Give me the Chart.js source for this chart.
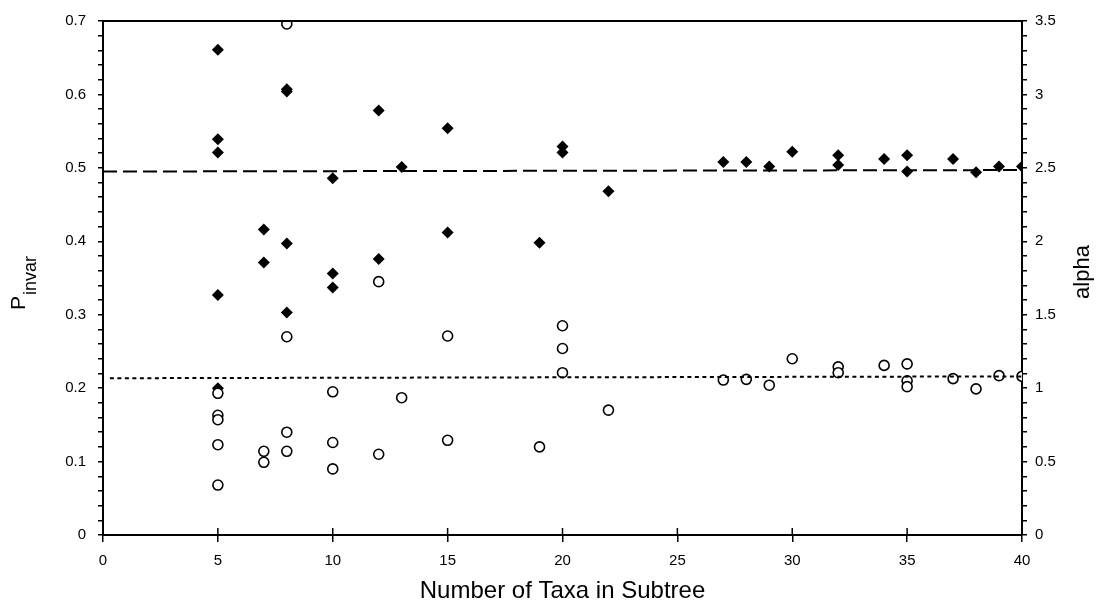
<!DOCTYPE html>
<html>
<head>
<meta charset="utf-8">
<script src="https://cdn.jsdelivr.net/npm/chart.js@4.4.1/dist/chart.umd.min.js"></script>
<style>
html, body { margin: 0; padding: 0; background: #fff; }
canvas { display: block; }
</style>
</head>
<body>
<canvas id="chart" width="1098" height="604"></canvas>
<script>
// filled diamonds (read on the left axis)
const diamondX = [5, 5, 5, 5, 5, 7, 7, 8, 8, 8, 8, 10, 10, 10, 12, 12, 13, 15, 15, 19, 20, 20, 22,
  27, 28, 29, 30, 32, 32, 34, 35, 35, 37, 38, 39, 40];
const diamondY = [0.661, 0.539, 0.521, 0.327, 0.200, 0.416, 0.371, 0.607, 0.604, 0.397, 0.303,
  0.486, 0.356, 0.337, 0.578, 0.376, 0.501, 0.554, 0.412, 0.398, 0.529, 0.521, 0.468,
  0.508, 0.508, 0.502, 0.522, 0.517, 0.504, 0.512, 0.517, 0.495, 0.512, 0.494, 0.502, 0.502];

// open circles
const circleX = [5, 5, 5, 5, 5, 7, 7, 8, 8, 8, 8, 10, 10, 10, 12, 12, 13, 15, 15, 19, 20, 20, 20, 22,
  27, 28, 29, 30, 32, 32, 34, 35, 35, 35, 37, 38, 39, 40];
const circleY = [0.193, 0.163, 0.157, 0.123, 0.068, 0.114, 0.099, 0.696, 0.270, 0.140, 0.114,
  0.195, 0.126, 0.090, 0.345, 0.110, 0.187, 0.271, 0.129, 0.120, 0.285, 0.254, 0.221, 0.170,
  0.211, 0.212, 0.204, 0.240, 0.229, 0.221, 0.231, 0.233, 0.210, 0.202, 0.213, 0.199, 0.217, 0.216];

// the two fitted lines
const dashX = [0, 40];
const dashY = [0.495, 0.497];
const dotX = [0.3, 40];
const dotY = [0.2135, 0.216];

const xMajor = [0, 5, 10, 15, 20, 25, 30, 35, 40];
const leftLabels = ['0', '0.1', '0.2', '0.3', '0.4', '0.5', '0.6', '0.7'];
const rightLabels = ['0', '0.5', '1', '1.5', '2', '2.5', '3', '3.5'];
const xTitle = 'Number of Taxa in Subtree';
const yTitleMain = 'P';
const yTitleSub = 'invar';
const y2Title = 'alpha';

const FONT = '"Liberation Sans", Arial, Helvetica, sans-serif';
const pts = (xs, ys) => xs.map((x, i) => ({ x: x, y: ys[i] }));

// minor ticks every 0.02 on the left, 0.1 on the right
const leftTicks = [];
for (let i = 0; i <= 35; i++) leftTicks.push(i / 50);
const rightTicks = [];
for (let i = 0; i <= 35; i++) rightTicks.push(i / 10);

const frame = {
  id: 'frame',
  afterDraw(chart) {
    const { ctx, chartArea: a, scales } = chart;
    ctx.save();
    ctx.strokeStyle = '#000';
    ctx.lineWidth = 2;
    ctx.beginPath();
    ctx.moveTo(a.left, a.top);
    ctx.lineTo(a.right, a.top);
    ctx.stroke();

    // x ticks also poke up into the plot
    ctx.lineWidth = 1.5;
    xMajor.forEach(v => {
      const px = scales.x.getPixelForValue(v);
      ctx.beginPath();
      ctx.moveTo(px, a.bottom);
      ctx.lineTo(px, a.bottom - 7);
      ctx.stroke();
    });

    ctx.fillStyle = '#000';
    ctx.textBaseline = 'alphabetic';
    ctx.font = '24px ' + FONT;
    ctx.textAlign = 'center';
    ctx.fillText(xTitle, (a.left + a.right) / 2, 598);

    // P with subscript "invar"
    ctx.save();
    ctx.translate(25, 310);
    ctx.rotate(-Math.PI / 2);
    ctx.textAlign = 'left';
    ctx.font = '21px ' + FONT;
    ctx.fillText(yTitleMain, 0, 0);
    const w = ctx.measureText(yTitleMain).width;
    ctx.font = '18px ' + FONT;
    ctx.fillText(yTitleSub, w + 1, 11);
    ctx.restore();

    ctx.save();
    ctx.translate(1089, 272);
    ctx.rotate(-Math.PI / 2);
    ctx.textAlign = 'center';
    ctx.font = '22px ' + FONT;
    ctx.fillText(y2Title, 0, 0);
    ctx.restore();
    ctx.restore();
  }
};

new Chart(document.getElementById('chart'), {
  type: 'scatter',
  data: {
    datasets: [
      { data: pts(dashX, dashY), showLine: true, pointRadius: 0, borderColor: '#000', borderWidth: 2, borderDash: [14, 6], order: -1 },
      { data: pts(dotX, dotY), showLine: true, pointRadius: 0, borderColor: '#000', borderWidth: 2, borderDash: [4, 3.5], order: -1 },
      { data: pts(circleX, circleY), pointStyle: 'circle', pointRadius: 5, borderWidth: 1.6, borderColor: '#000', backgroundColor: '#fff', order: 0 },
      { data: pts(diamondX, diamondY), pointStyle: 'rectRot', pointRadius: 6, borderWidth: 0, backgroundColor: '#000', borderColor: '#000', order: 1 }
    ]
  },
  options: {
    responsive: false,
    animation: false,
    devicePixelRatio: 1,
    events: [],
    layout: { padding: { top: 17, left: 0, right: 0, bottom: 0 } },
    plugins: { legend: { display: false }, tooltip: { enabled: false } },
    scales: {
      x: {
        type: 'linear', min: 0, max: 40,
        afterFit: s => { s.height = 69; },
        afterBuildTicks: s => { s.ticks = xMajor.map(v => ({ value: v })); },
        ticks: { color: '#000', font: { family: FONT, size: 15 }, padding: 10, autoSkip: false, maxRotation: 0 },
        grid: { drawOnChartArea: false, color: '#000', lineWidth: 1.5, tickLength: 7 },
        border: { color: '#000', width: 2 }
      },
      y: {
        type: 'linear', position: 'left', min: 0, max: 0.7,
        afterFit: s => { s.width = 103; },
        afterBuildTicks: s => { s.ticks = leftTicks.map(v => ({ value: v })); },
        ticks: {
          color: '#000', font: { family: FONT, size: 15 }, padding: 12, autoSkip: false,
          callback: v => {
            const k = Math.round(v * 10);
            return Math.abs(v * 10 - k) < 1e-6 ? leftLabels[k] : '';
          }
        },
        grid: { drawOnChartArea: false, color: '#000', lineWidth: 1.5, tickLength: 5 },
        border: { color: '#000', width: 2 }
      },
      y2: {
        type: 'linear', position: 'right', min: 0, max: 3.5,
        afterFit: s => { s.width = 76; },
        afterBuildTicks: s => { s.ticks = rightTicks.map(v => ({ value: v })); },
        ticks: {
          color: '#000', font: { family: FONT, size: 15 }, padding: 8, autoSkip: false,
          callback: v => {
            const k = Math.round(v * 2);
            return Math.abs(v * 2 - k) < 1e-6 ? rightLabels[k] : '';
          }
        },
        grid: { drawOnChartArea: false, color: '#000', lineWidth: 1.5, tickLength: 5 },
        border: { color: '#000', width: 2 }
      }
    }
  },
  plugins: [frame]
});
</script>
</body>
</html>
